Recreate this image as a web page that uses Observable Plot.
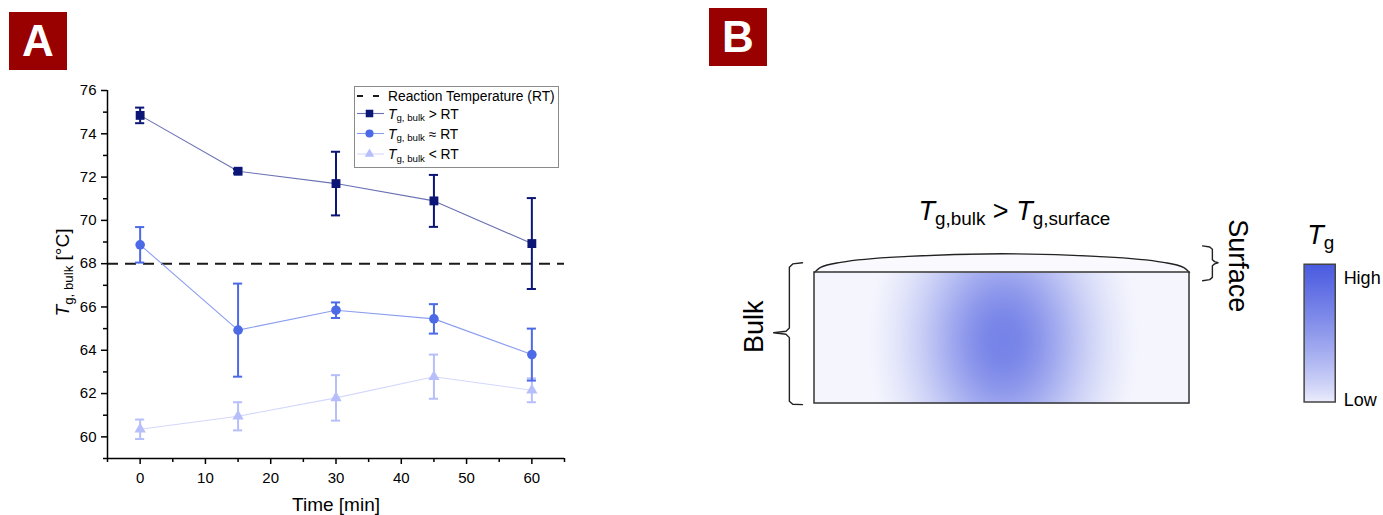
<!DOCTYPE html>
<html><head><meta charset="utf-8">
<script src="https://cdn.jsdelivr.net/npm/d3@7"></script>
<script src="https://cdn.jsdelivr.net/npm/@observablehq/plot@0.6"></script>
<style>
html,body{margin:0;padding:0;background:#fff;}
#page{position:relative;width:1383px;height:515px;overflow:hidden;font-family:"Liberation Sans",Arial,sans-serif;}
.tag{position:absolute;width:58px;height:58px;background:#990000;color:#fff;font:bold 44px "Liberation Sans",Arial,sans-serif;display:flex;align-items:center;justify-content:center;line-height:1;}
#plotA{position:absolute;left:0;top:0;}
#plotB{position:absolute;left:700px;top:0;}
#legend{position:absolute;left:354px;top:86px;}
</style></head>
<body>
<div id="page">
  <div class="tag" style="left:9px;top:12px;">A</div>
  <div class="tag" style="left:709px;top:8px;">B</div>
  <div id="plotA"></div>
  <div id="legend"></div>
  <div id="plotB"></div>
</div>
<script>
// ---------------- Panel A data ----------------
const times = [0, 15, 30, 45, 60];
const tgAbove  = [74.85, 72.27, 71.70, 70.90, 68.93];
const errAbove = [0.36, 0.10, 1.47, 1.20, 2.10];
const tgApprox  = [68.87, 64.93, 65.85, 65.45, 63.80];
const errApprox = [0.82, 2.15, 0.36, 0.68, 1.20];
const tgBelow  = [60.35, 60.95, 61.80, 62.78, 62.15];
const errBelow = [0.45, 0.65, 1.05, 1.02, 0.55];
const reactionTemp = 68;
const xTicks = [0, 10, 20, 30, 40, 50, 60];
const xMinorTicks = [-5, 5, 15, 25, 35, 45, 55, 65];
const yTicks = [60, 62, 64, 66, 68, 70, 72, 74, 76];
const yMinorTicks = [59, 61, 63, 65, 67, 69, 71, 73, 75];
const xLabel = "Time [min]";
const yLabel = "{i:T}{sub:g, bulk} [°C]";
const legendLabels = ["Reaction Temperature (RT)", "{i:T}{sub:g, bulk} > RT", "{i:T}{sub:g, bulk} ≈ RT", "{i:T}{sub:g, bulk} < RT"];

// ---------------- Panel B data (schematic, film units) ----------------
const domeX = [0, 1.5, 7, 25, 50, 75, 93, 98.5, 100];
const domeY = [35, 36.3, 37.7, 39.3, 40, 39.3, 37.7, 36.3, 35];
const bulkBraceX = [-3.2, -5.8, -6.7, -6.7, -7.6, -10.9, -7.6, -6.7, -6.7, -5.8, -3.2];
const bulkBraceY = [37.6, 37.3, 36.4, 20.2, 19.3, 18.9, 18.5, 17.6, 0.6, -0.2, -0.3];
const surfBraceX = [103.5, 105.4, 106.1, 106.1, 106.7, 107.6, 106.7, 106.1, 106.1, 105.4, 103.5];
const surfBraceY = [42.1, 41.8, 41.2, 38.4, 37.9, 37.6, 37.3, 36.8, 33.7, 33.1, 32.8];
const titleB = "{i:T}{sub:g,bulk} > {i:T}{sub:g,surface}";
const colorbarTitle = "{i:T}{sub:g}";
const colorbarLabels = ["High", "Low"];
const bulkLabel = "Bulk";
const surfaceLabel = "Surface";

const FONT = '"Liberation Sans", Arial, sans-serif';

function richify(root) {
  d3.select(root).selectAll("text").each(function () {
    const s = this.textContent;
    if (!/\{(i|sub):/.test(s)) return;
    const el = d3.select(this);
    el.text(null);
    const re = /\{(i|sub):([^}]*)\}|([^{]+)/g;
    let m, inSub = false;
    while ((m = re.exec(s))) {
      const t = el.append("tspan");
      if (m[1] === "sub") {
        t.attr("font-size", "70%");
        if (!inSub) t.attr("dy", "0.3em");
        t.text(m[2]);
        inSub = true;
      } else {
        if (inSub) t.attr("dy", "-0.21em");
        inSub = false;
        if (m[1] === "i") t.attr("font-style", "italic").text(m[2]);
        else t.text(m[3]);
      }
    }
  });
}

const series = [
  {key: "below", vals: tgBelow, err: errBelow, color: "#b7bffa", line: "#d3d8fc", symbol: "triangle", r: 4.2},
  {key: "approx", vals: tgApprox, err: errApprox, color: "#4c69e6", line: "#8c9ef0", symbol: "circle", r: 4.8},
  {key: "above", vals: tgAbove, err: errAbove, color: "#0b1677", line: "#6b72b4", symbol: "square", r: 5.0}
];

const marksA = [
  Plot.ruleY([reactionTemp], {stroke: "#1a1a1a", strokeWidth: 2, strokeDasharray: "11,7"})
];
for (const s of series) {
  const rows = times.map((t, i) => ({t, v: s.vals[i], e: s.err[i]}));
  marksA.push(
    Plot.line(rows, {x: "t", y: "v", stroke: s.line, strokeWidth: 1.1}),
    Plot.ruleX(rows, {x: "t", y1: d => d.v - d.e, y2: d => d.v + d.e, stroke: s.color, strokeWidth: 2}),
    Plot.ruleY(rows, {y: d => d.v + d.e, x1: d => d.t - 0.7, x2: d => d.t + 0.7, stroke: s.color, strokeWidth: 2}),
    Plot.ruleY(rows, {y: d => d.v - d.e, x1: d => d.t - 0.7, x2: d => d.t + 0.7, stroke: s.color, strokeWidth: 2}),
    Plot.dot(rows, {x: "t", y: "v", symbol: s.symbol, r: s.r, fill: s.color, stroke: null})
  );
}
marksA.push(
  Plot.axisX({ticks: xTicks, tickSize: 6, tickPadding: 8, label: null, strokeWidth: 1.5, fontSize: 15}),
  Plot.axisX({ticks: xMinorTicks, tickSize: 4, tickFormat: () => "", label: null, strokeWidth: 1.5}),
  Plot.axisY({ticks: yTicks, tickSize: 6, tickPadding: 5, label: null, strokeWidth: 1.5, fontSize: 15}),
  Plot.axisY({ticks: yMinorTicks, tickSize: 4, tickFormat: () => "", label: null, strokeWidth: 1.5}),
  Plot.ruleY([59], {stroke: "#000", strokeWidth: 1.5}),
  Plot.ruleX([-5], {stroke: "#000", strokeWidth: 1.5}),
  Plot.text([xLabel], {frameAnchor: "bottom", dy: 52, lineAnchor: "bottom", textAnchor: "middle", fontSize: 19, fill: "#000"}),
  Plot.text([yLabel], {frameAnchor: "left", dx: -39, dy: -2, rotate: -90, lineAnchor: "bottom", textAnchor: "middle", fontSize: 19, fill: "#000"})
);

const plotA = Plot.plot({
  width: 600, height: 515,
  marginLeft: 107, marginRight: 36, marginTop: 90, marginBottom: 57,
  x: {domain: [-5, 65]},
  y: {domain: [59, 76]},
  style: {fontFamily: FONT, fontSize: "15px", color: "#000", background: "transparent"},
  marks: marksA
});
richify(plotA);
document.getElementById("plotA").appendChild(plotA);

// ---------------- Legend ----------------
const leg = d3.select("#legend").append("svg").attr("width", 205).attr("height", 82)
  .style("font-family", FONT).style("overflow", "visible");
leg.append("rect").attr("x", 0.5).attr("y", 0.5).attr("width", 204).attr("height", 81)
  .attr("fill", "#fff").attr("stroke", "#8a8a8a").attr("stroke-width", 1);
const rowY = [10, 27.5, 47.5, 68];
leg.append("line").attr("x1", 3).attr("x2", 30).attr("y1", rowY[0]).attr("y2", rowY[0])
  .attr("stroke", "#1a1a1a").attr("stroke-width", 2).attr("stroke-dasharray", "6,10");
const legSeries = [series[2], series[1], series[0]];
const symMap = {square: d3.symbolSquare, circle: d3.symbolCircle, triangle: d3.symbolTriangle};
legSeries.forEach((s, i) => {
  const y = rowY[i + 1];
  leg.append("line").attr("x1", 3).attr("x2", 30).attr("y1", y).attr("y2", y)
    .attr("stroke", s.line).attr("stroke-width", 1.1);
  leg.append("path").attr("transform", `translate(15.5,${y})`)
    .attr("d", d3.symbol(symMap[s.symbol], Math.PI * (s.r * 0.85) ** 2)()).attr("fill", s.color);
});
legendLabels.forEach((t, i) => {
  leg.append("text").attr("x", 34).attr("y", rowY[i] + 5).attr("font-size", 13.8).attr("fill", "#000").text(t);
});
richify(leg.node());

// ---------------- Panel B ----------------
const dome = domeX.map((x, i) => ({x, y: domeY[i]}));
const bulkBrace = bulkBraceX.map((x, i) => ({x, y: bulkBraceY[i]}));
const surfBrace = surfBraceX.map((x, i) => ({x, y: surfBraceY[i]}));
const tail = Math.exp(-2.5);
const tgField = (x, y) => {
  const d2 = ((x - 50.4) / 36) ** 2 + ((y - 16.8) / 48) ** 2;
  return d2 < 1 ? 0.74 * (Math.exp(-2.5 * d2) - tail) / (1 - tail) : 0;
};
const barField = (x, y) => 0.03 + 0.97 * Math.pow((y - 0.27) / 36.8, 0.8);

const plotB = Plot.plot({
  width: 683, height: 515,
  marginLeft: 114, marginRight: 194, marginTop: 272, marginBottom: 112,
  x: {domain: [0, 100], axis: null},
  y: {domain: [0, 35], axis: null},
  color: {type: "linear", domain: [0, 1], range: ["#f4f5fd", "#4a5be0"], interpolate: "rgb"},
  style: {fontFamily: FONT, color: "#000", background: "transparent"},
  marks: [
    Plot.areaY(dome, {x: "x", y1: 35, y2: "y", fill: "#f9f9fe", curve: "monotone-x"}),
    Plot.line(dome, {x: "x", y: "y", curve: "monotone-x", stroke: "#222", strokeWidth: 1.4}),
    Plot.raster({x1: 0, x2: 100, y1: 0, y2: 35, fill: tgField, pixelSize: 1}),
    Plot.rect([0], {x1: 0, x2: 100, y1: 0, y2: 35, fill: "none", stroke: "#333", strokeWidth: 1.5}),
    Plot.line(bulkBrace, {x: "x", y: "y", stroke: "#222", strokeWidth: 1.4}),
    Plot.line(surfBrace, {x: "x", y: "y", stroke: "#222", strokeWidth: 1.4}),
    Plot.raster({x1: 130.7, x2: 139, y1: 0.27, y2: 37.07, fill: barField, pixelSize: 1}),
    Plot.rect([0], {x1: 130.7, x2: 139, y1: 0.27, y2: 37.07, fill: "none", stroke: "#444", strokeWidth: 1.5}),
    Plot.text([titleB], {x: 53.3, y: 49.1, fontSize: 27, lineAnchor: "bottom", textAnchor: "middle", fill: "#000"}),
    Plot.text([colorbarTitle], {x: 131.4, y: 42.7, fontSize: 27, lineAnchor: "bottom", textAnchor: "start", fill: "#000"}),
    Plot.text([colorbarLabels[0]], {x: 141.1, y: 33.6, fontSize: 18, lineAnchor: "middle", textAnchor: "start", fill: "#000"}),
    Plot.text([colorbarLabels[1]], {x: 141.1, y: 0.8, fontSize: 18, lineAnchor: "middle", textAnchor: "start", fill: "#000"}),
    Plot.text([bulkLabel], {x: -16, y: 20.5, fontSize: 27, rotate: -90, lineAnchor: "middle", textAnchor: "middle", fill: "#000"}),
    Plot.text([surfaceLabel], {x: 112.9, y: 36.8, fontSize: 27, rotate: 90, lineAnchor: "middle", textAnchor: "middle", fill: "#000"})
  ]
});
richify(plotB);
document.getElementById("plotB").appendChild(plotB);
</script>
</body></html>
